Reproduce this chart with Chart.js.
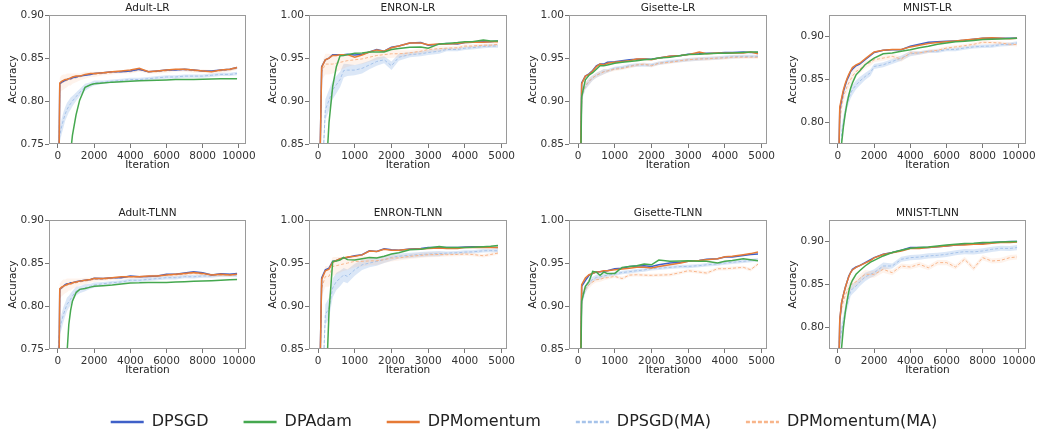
<!DOCTYPE html>
<html>
<head>
<meta charset="utf-8">
<script src="https://cdn.jsdelivr.net/npm/chart.js@4.4.1/dist/chart.umd.min.js"></script>
<style>
html, body { margin: 0; padding: 0; background: #fff; }
#wrap { position: relative; width: 1038px; height: 432px; overflow: hidden; }
#wrap canvas { position: absolute; }
</style>
</head>
<body>
<div id="wrap"></div>
<script>
const FONT = "'DejaVu Sans', sans-serif";
const FS = 10.5;

// iteration grids
const iters10k = [0, 100, 200, 300, 400, 500, 600, 700, 800, 1000,
    1200, 1500, 1800, 2000, 2500, 3000, 3500, 4000, 4500, 5000,
    5500, 6000, 6500, 7000, 7500, 8000, 8500, 9000, 9500, 9900];
const iters5k = [0, 100, 200, 300, 400, 500, 600, 700, 800,
    1000, 1200, 1400, 1600, 1800, 2000, 2200, 2500, 2800,
    3000, 3300, 3500, 3800, 4000, 4200, 4500, 4700, 4900];

const xTicks10k = [0, 2000, 4000, 6000, 8000, 10000];
const xTicks5k = [0, 1000, 2000, 3000, 4000, 5000];
const yTicksAdult = [0.75, 0.80, 0.85, 0.90];
const yTicksHigh = [0.85, 0.90, 0.95, 1.00];
const yTicksMnist = [0.80, 0.85, 0.90];

const seriesNames = ['DPSGD', 'DPAdam', 'DPMomentum', 'DPSGD(MA)', 'DPMomentum(MA)'];
const seriesColors = ['#3f60c8', '#45a84f', '#e67a36', '#a6c3ea', '#f8b58a'];

// ---- Adult-LR ----
const adultLrSgd = [0.600, 0.820, 0.822, 0.823, 0.824, 0.825, 0.826, 0.826, 0.827, 0.828,
    0.829, 0.830, 0.831, 0.832, 0.833, 0.834, 0.834, 0.835, 0.837, 0.834,
    0.835, 0.836, 0.836, 0.837, 0.836, 0.835, 0.835, 0.836, 0.837, 0.839];
const adultLrMom = [0.600, 0.821, 0.823, 0.824, 0.825, 0.825, 0.826, 0.827, 0.828, 0.829,
    0.829, 0.831, 0.832, 0.832, 0.833, 0.834, 0.835, 0.836, 0.838, 0.834,
    0.835, 0.836, 0.837, 0.837, 0.836, 0.835, 0.834, 0.836, 0.837, 0.839];
const adultLrAdam = [0.550, 0.570, 0.600, 0.630, 0.660, 0.690, 0.715, 0.740, 0.760, 0.784,
    0.801, 0.816, 0.819, 0.820, 0.821, 0.822, 0.8225, 0.823, 0.8235, 0.824,
    0.8243, 0.8246, 0.825, 0.825, 0.8252, 0.8254, 0.8256, 0.8258, 0.826, 0.826];
const adultLrSgdMA = [0.745, 0.760, 0.770, 0.778, 0.785, 0.790, 0.794, 0.797, 0.800, 0.805,
    0.810, 0.816, 0.819, 0.821, 0.822, 0.823, 0.824, 0.825, 0.825, 0.826,
    0.827, 0.828, 0.828, 0.829, 0.829, 0.829, 0.830, 0.831, 0.831, 0.832];
const adultLrMomMA = [0.600, 0.819, 0.821, 0.822, 0.823, 0.824, 0.825, 0.825, 0.826, 0.827,
    0.828, 0.830, 0.831, 0.831, 0.832, 0.833, 0.834, 0.834, 0.836, 0.834,
    0.834, 0.835, 0.836, 0.836, 0.835, 0.835, 0.834, 0.835, 0.836, 0.838];
const adultLrBand = [0, 0.008, 0.009, 0.009, 0.008, 0.008, 0.007, 0.007, 0.006, 0.005,
    0.004, 0.004, 0.003, 0.003, 0.002, 0.002, 0.002, 0.002, 0.002, 0.002,
    0.002, 0.002, 0.002, 0.002, 0.002, 0.002, 0.002, 0.002, 0.002, 0.002];

// ---- ENRON-LR ----
const enronLrSgd = [0.700, 0.940, 0.948, 0.950, 0.954, 0.954, 0.954, 0.954, 0.9545,
    0.9535, 0.9545, 0.957, 0.960, 0.958, 0.9625, 0.964, 0.9675, 0.968,
    0.965, 0.966, 0.967, 0.9665, 0.968, 0.9685, 0.969, 0.969, 0.970];
const enronLrMom = [0.700, 0.939, 0.948, 0.950, 0.953, 0.953, 0.954, 0.954, 0.954,
    0.951, 0.9535, 0.957, 0.9595, 0.958, 0.962, 0.964, 0.9675, 0.9675,
    0.9655, 0.9665, 0.9665, 0.967, 0.968, 0.9685, 0.9685, 0.969, 0.969];
const enronLrAdam = [0.700, 0.750, 0.800, 0.875, 0.917, 0.940, 0.9526, 0.953, 0.954,
    0.9555, 0.956, 0.957, 0.957, 0.957, 0.960, 0.961, 0.9627, 0.963,
    0.9615, 0.9665, 0.967, 0.968, 0.969, 0.969, 0.971, 0.970, 0.970];
const enronLrSgdMA = [0.700, 0.800, 0.890, 0.901, 0.913, 0.919, 0.925, 0.9355, 0.936,
    0.936, 0.938, 0.942, 0.946, 0.948, 0.941, 0.951, 0.954, 0.955,
    0.9565, 0.958, 0.960, 0.960, 0.9615, 0.962, 0.9635, 0.964, 0.964];
const enronLrMomMA = [0.700, 0.934, 0.943, 0.943, 0.943, 0.944, 0.945, 0.946, 0.947,
    0.948, 0.949, 0.951, 0.953, 0.954, 0.955, 0.955, 0.956, 0.958,
    0.960, 0.961, 0.9615, 0.962, 0.964, 0.964, 0.965, 0.965, 0.966];
const enronLrBand = [0, 0.010, 0.012, 0.012, 0.011, 0.010, 0.009, 0.008, 0.007,
    0.006, 0.006, 0.005, 0.005, 0.004, 0.005, 0.004, 0.003, 0.003,
    0.003, 0.003, 0.002, 0.002, 0.002, 0.002, 0.002, 0.002, 0.002];

// ---- Gisette-LR ----
const gisetteLrSgd = [0.600, 0.921, 0.929, 0.9316, 0.9355, 0.941, 0.943, 0.943, 0.945,
    0.9456, 0.947, 0.948, 0.9487, 0.949, 0.9487, 0.950, 0.952, 0.953,
    0.9545, 0.955, 0.9557, 0.956, 0.9565, 0.9565, 0.957, 0.9565, 0.9565];
const gisetteLrMom = [0.600, 0.920, 0.929, 0.931, 0.935, 0.940, 0.943, 0.942, 0.944,
    0.945, 0.946, 0.947, 0.949, 0.949, 0.948, 0.950, 0.952, 0.953,
    0.954, 0.957, 0.955, 0.956, 0.9555, 0.956, 0.956, 0.957, 0.955];
const gisetteLrAdam = [0.600, 0.905, 0.9246, 0.930, 0.933, 0.937, 0.941, 0.941, 0.942,
    0.944, 0.945, 0.946, 0.947, 0.948, 0.9487, 0.950, 0.951, 0.953,
    0.9542, 0.9545, 0.955, 0.9555, 0.9557, 0.956, 0.9565, 0.957, 0.957];
const gisetteLrSgdMA = [0.600, 0.905, 0.917, 0.9227, 0.927, 0.930, 0.932, 0.9343, 0.935,
    0.938, 0.939, 0.941, 0.942, 0.942, 0.942, 0.944, 0.946, 0.947,
    0.948, 0.949, 0.9495, 0.950, 0.951, 0.9515, 0.952, 0.952, 0.952];
const gisetteLrMomMA = [0.600, 0.907, 0.918, 0.923, 0.927, 0.930, 0.932, 0.934, 0.935,
    0.937, 0.938, 0.940, 0.942, 0.943, 0.941, 0.944, 0.945, 0.947,
    0.948, 0.949, 0.949, 0.950, 0.950, 0.951, 0.951, 0.951, 0.951];
const gisetteLrBand = [0, 0.005, 0.004, 0.004, 0.003, 0.003, 0.003, 0.003, 0.002,
    0.002, 0.002, 0.002, 0.002, 0.002, 0.002, 0.002, 0.002, 0.002,
    0.002, 0.002, 0.002, 0.002, 0.002, 0.002, 0.002, 0.002, 0.002];

// ---- MNIST-LR ----
const mnistLrSgd = [0.700, 0.8145, 0.826, 0.836, 0.843, 0.8496, 0.854, 0.8594, 0.862, 0.866,
    0.868, 0.873, 0.878, 0.8816, 0.884, 0.8848, 0.8848, 0.8887, 0.891, 0.8934,
    0.894, 0.8945, 0.895, 0.8957, 0.897, 0.898, 0.898, 0.898, 0.898, 0.8984];
const mnistLrMom = [0.700, 0.818, 0.828, 0.838, 0.845, 0.851, 0.856, 0.860, 0.864, 0.867,
    0.869, 0.874, 0.879, 0.882, 0.884, 0.885, 0.885, 0.888, 0.890, 0.892,
    0.893, 0.894, 0.895, 0.896, 0.897, 0.898, 0.8985, 0.898, 0.8975, 0.898];
const mnistLrAdam = [0.650, 0.700, 0.7754, 0.795, 0.810, 0.8223, 0.832, 0.840, 0.846, 0.8555,
    0.860, 0.8672, 0.872, 0.875, 0.880, 0.8809, 0.883, 0.8848, 0.887, 0.8887,
    0.891, 0.8926, 0.894, 0.8945, 0.8955, 0.8965, 0.897, 0.8973, 0.8977, 0.898];
const mnistLrSgdMA = [0.650, 0.720, 0.787, 0.800, 0.812, 0.8223, 0.828, 0.834, 0.838, 0.8438,
    0.848, 0.8535, 0.858, 0.8652, 0.8672, 0.871, 0.875, 0.880, 0.881, 0.8828,
    0.883, 0.8848, 0.885, 0.8867, 0.888, 0.8887, 0.889, 0.8906, 0.891, 0.8926];
const mnistLrMomMA = [0.700, 0.8027, 0.818, 0.830, 0.836, 0.8418, 0.846, 0.850, 0.854, 0.8594,
    0.862, 0.8672, 0.870, 0.873, 0.875, 0.877, 0.8738, 0.8809, 0.881, 0.8828,
    0.884, 0.8867, 0.888, 0.8895, 0.891, 0.8934, 0.893, 0.8926, 0.891, 0.8906];
const mnistLrBand = [0, 0.010, 0.009, 0.008, 0.007, 0.007, 0.006, 0.006, 0.006, 0.005,
    0.005, 0.004, 0.004, 0.003, 0.003, 0.003, 0.003, 0.003, 0.002, 0.002,
    0.002, 0.002, 0.002, 0.002, 0.002, 0.002, 0.002, 0.002, 0.002, 0.002];

// ---- Adult-TLNN ----
const adultTlnnSgd = [0.600, 0.8194, 0.8213, 0.823, 0.825, 0.826, 0.826, 0.827, 0.827, 0.8283,
    0.829, 0.830, 0.831, 0.8322, 0.832, 0.833, 0.833, 0.835, 0.834, 0.8345,
    0.835, 0.8369, 0.837, 0.8384, 0.840, 0.8388, 0.836, 0.8377, 0.837, 0.838];
const adultTlnnMom = [0.600, 0.820, 0.822, 0.823, 0.824, 0.825, 0.826, 0.826, 0.827, 0.828,
    0.829, 0.830, 0.831, 0.832, 0.832, 0.833, 0.834, 0.834, 0.834, 0.835,
    0.835, 0.836, 0.837, 0.838, 0.839, 0.838, 0.836, 0.837, 0.836, 0.837];
const adultTlnnAdam = [0.550, 0.600, 0.650, 0.690, 0.720, 0.745, 0.7785, 0.795, 0.8057, 0.8154,
    0.8194, 0.8205, 0.822, 0.8229, 0.8236, 0.8244, 0.8255, 0.8268, 0.827, 0.8275,
    0.8275, 0.8275, 0.828, 0.8283, 0.8287, 0.8291, 0.8295, 0.830, 0.8305, 0.831];
const adultTlnnSgdMA = [0.745, 0.7746, 0.782, 0.790, 0.796, 0.8018, 0.805, 0.808, 0.8116, 0.8174,
    0.819, 0.8213, 0.823, 0.8244, 0.826, 0.8271, 0.828, 0.830, 0.830, 0.831,
    0.832, 0.833, 0.833, 0.8342, 0.834, 0.835, 0.835, 0.836, 0.836, 0.8357];
const adultTlnnMomMA = [0.600, 0.818, 0.820, 0.822, 0.823, 0.824, 0.825, 0.825, 0.826, 0.827,
    0.828, 0.829, 0.830, 0.831, 0.831, 0.832, 0.833, 0.834, 0.834, 0.834,
    0.835, 0.836, 0.836, 0.837, 0.838, 0.837, 0.836, 0.836, 0.836, 0.837];
const adultTlnnBand = [0, 0.008, 0.009, 0.009, 0.008, 0.008, 0.007, 0.007, 0.006, 0.005,
    0.004, 0.004, 0.003, 0.003, 0.002, 0.002, 0.002, 0.002, 0.002, 0.002,
    0.002, 0.002, 0.002, 0.002, 0.002, 0.002, 0.002, 0.002, 0.002, 0.002];

// ---- ENRON-TLNN ----
const enronTlnnSgd = [0.700, 0.9326, 0.9422, 0.944, 0.952, 0.953, 0.9547, 0.956, 0.9566,
    0.9585, 0.9597, 0.9643, 0.9636, 0.9667, 0.9655, 0.965, 0.9663, 0.967,
    0.9682, 0.968, 0.9682, 0.968, 0.9686, 0.969, 0.969, 0.9685, 0.9682];
const enronTlnnMom = [0.700, 0.931, 0.941, 0.943, 0.951, 0.953, 0.955, 0.956, 0.957,
    0.958, 0.9595, 0.964, 0.9635, 0.966, 0.965, 0.965, 0.966, 0.9665,
    0.967, 0.9675, 0.967, 0.967, 0.968, 0.968, 0.9685, 0.968, 0.968];
const enronTlnnAdam = [0.600, 0.700, 0.780, 0.894, 0.952, 0.9525, 0.9535, 0.9566, 0.954,
    0.9535, 0.955, 0.9566, 0.956, 0.958, 0.9605, 0.962, 0.9655, 0.966,
    0.9674, 0.9694, 0.9682, 0.968, 0.9682, 0.9685, 0.969, 0.9695, 0.9705];
const enronTlnnSgdMA = [0.700, 0.780, 0.890, 0.8977, 0.921, 0.9287, 0.932, 0.9364, 0.9345,
    0.9422, 0.948, 0.950, 0.952, 0.954, 0.9566, 0.958, 0.959, 0.960,
    0.9605, 0.961, 0.9616, 0.962, 0.9628, 0.963, 0.9643, 0.9645, 0.9643];
const enronTlnnMomMA = [0.700, 0.921, 0.9345, 0.9345, 0.946, 0.947, 0.948, 0.949, 0.950,
    0.952, 0.952, 0.9525, 0.9527, 0.954, 0.9558, 0.956, 0.9578, 0.959,
    0.9597, 0.960, 0.9597, 0.960, 0.9605, 0.960, 0.9585, 0.960, 0.9616];
const enronTlnnBand = [0, 0.010, 0.012, 0.012, 0.011, 0.010, 0.009, 0.008, 0.008,
    0.007, 0.006, 0.005, 0.005, 0.004, 0.004, 0.003, 0.003, 0.003,
    0.003, 0.003, 0.002, 0.002, 0.002, 0.002, 0.002, 0.002, 0.002];

// ---- Gisette-TLNN ----
const gisetteTlnnSgd = [0.600, 0.9229, 0.9295, 0.9357, 0.938, 0.9395, 0.940, 0.9405, 0.9411,
    0.9434, 0.944, 0.946, 0.9465, 0.947, 0.9461, 0.948, 0.950, 0.951,
    0.952, 0.953, 0.9543, 0.955, 0.957, 0.957, 0.9589, 0.960, 0.9605];
const gisetteTlnnMom = [0.600, 0.9248, 0.9326, 0.9364, 0.938, 0.9395, 0.940, 0.941, 0.941,
    0.9423, 0.943, 0.944, 0.945, 0.945, 0.9442, 0.946, 0.948, 0.950,
    0.952, 0.953, 0.9539, 0.955, 0.9574, 0.958, 0.9597, 0.961, 0.9628];
const gisetteTlnnAdam = [0.600, 0.9054, 0.9229, 0.9287, 0.9403, 0.9395, 0.9357, 0.9395, 0.938,
    0.938, 0.945, 0.946, 0.947, 0.9488, 0.948, 0.9535, 0.952, 0.9525,
    0.9527, 0.952, 0.952, 0.950, 0.952, 0.953, 0.955, 0.9539, 0.9527];
const gisetteTlnnSgdMA = [0.600, 0.9054, 0.919, 0.9279, 0.931, 0.9333, 0.934, 0.935, 0.936,
    0.9372, 0.939, 0.940, 0.9411, 0.942, 0.9434, 0.944, 0.945, 0.946,
    0.9461, 0.947, 0.948, 0.949, 0.950, 0.951, 0.952, 0.953, 0.9539];
const gisetteTlnnMomMA = [0.600, 0.9132, 0.920, 0.9248, 0.928, 0.9306, 0.931, 0.9326, 0.933,
    0.9345, 0.932, 0.936, 0.9364, 0.936, 0.9357, 0.936, 0.9364, 0.939,
    0.9411, 0.9395, 0.9384, 0.9434, 0.9434, 0.944, 0.945, 0.9423, 0.9488];
const gisetteTlnnBand = [0, 0.005, 0.004, 0.004, 0.003, 0.003, 0.003, 0.003, 0.002,
    0.002, 0.002, 0.002, 0.002, 0.002, 0.002, 0.002, 0.002, 0.002,
    0.002, 0.002, 0.002, 0.002, 0.002, 0.002, 0.002, 0.002, 0.002];

// ---- MNIST-TLNN ----
const mnistTlnnSgd = [0.700, 0.8074, 0.8288, 0.838, 0.8463, 0.853, 0.860, 0.864, 0.8677, 0.8704,
    0.872, 0.8755, 0.879, 0.8813, 0.8852, 0.8872, 0.8899, 0.893, 0.893, 0.893,
    0.894, 0.895, 0.896, 0.8969, 0.897, 0.8977, 0.899, 0.8996, 0.900, 0.900];
const mnistTlnnMom = [0.700, 0.809, 0.829, 0.838, 0.846, 0.853, 0.859, 0.864, 0.867, 0.870,
    0.872, 0.875, 0.878, 0.881, 0.885, 0.887, 0.889, 0.892, 0.892, 0.893,
    0.894, 0.895, 0.896, 0.896, 0.897, 0.897, 0.898, 0.899, 0.899, 0.8995];
const mnistTlnnAdam = [0.650, 0.700, 0.7763, 0.7996, 0.817, 0.8307, 0.842, 0.8502, 0.855, 0.8619,
    0.866, 0.8716, 0.876, 0.8782, 0.8833, 0.8872, 0.890, 0.8922, 0.893, 0.8938,
    0.895, 0.8961, 0.897, 0.8977, 0.898, 0.8988, 0.899, 0.8996, 0.8998, 0.900];
const mnistTlnnSgdMA = [0.700, 0.784, 0.796, 0.8074, 0.818, 0.8268, 0.835, 0.8424, 0.845, 0.8482,
    0.853, 0.8588, 0.862, 0.8638, 0.8716, 0.8716, 0.8794, 0.8813, 0.882, 0.8833,
    0.884, 0.8852, 0.887, 0.8883, 0.888, 0.8891, 0.891, 0.8922, 0.892, 0.893];
const mnistTlnnMomMA = [0.700, 0.8113, 0.822, 0.8307, 0.837, 0.8424, 0.846, 0.849, 0.851, 0.8533,
    0.857, 0.8619, 0.862, 0.8619, 0.8677, 0.8638, 0.8716, 0.8704, 0.8735, 0.8696,
    0.8755, 0.8755, 0.8704, 0.8794, 0.8689, 0.8813, 0.8774, 0.8782, 0.8813, 0.8821];
const mnistTlnnBand = [0, 0.010, 0.009, 0.008, 0.008, 0.007, 0.007, 0.006, 0.006, 0.005,
    0.005, 0.005, 0.004, 0.004, 0.004, 0.003, 0.003, 0.003, 0.003, 0.003,
    0.003, 0.003, 0.003, 0.003, 0.003, 0.003, 0.003, 0.003, 0.003, 0.003];

const panels = [
    {title: 'Adult-LR', x: iters10k, s: [adultLrSgd, adultLrAdam, adultLrMom, adultLrSgdMA, adultLrMomMA], band: adultLrBand,
     xr: [-495, 10395], xt: xTicks10k, yr: [0.75, 0.90], yt: yTicksAdult, col: 0, row: 0},
    {title: 'ENRON-LR', x: iters5k, s: [enronLrSgd, enronLrAdam, enronLrMom, enronLrSgdMA, enronLrMomMA], band: enronLrBand,
     xr: [-245, 5145], xt: xTicks5k, yr: [0.85, 1.00], yt: yTicksHigh, col: 1, row: 0},
    {title: 'Gisette-LR', x: iters5k, s: [gisetteLrSgd, gisetteLrAdam, gisetteLrMom, gisetteLrSgdMA, gisetteLrMomMA], band: gisetteLrBand,
     xr: [-245, 5145], xt: xTicks5k, yr: [0.85, 1.00], yt: yTicksHigh, col: 2, row: 0},
    {title: 'MNIST-LR', x: iters10k, s: [mnistLrSgd, mnistLrAdam, mnistLrMom, mnistLrSgdMA, mnistLrMomMA], band: mnistLrBand,
     xr: [-495, 10395], xt: xTicks10k, yr: [0.775, 0.925], yt: yTicksMnist, col: 3, row: 0},
    {title: 'Adult-TLNN', x: iters10k, s: [adultTlnnSgd, adultTlnnAdam, adultTlnnMom, adultTlnnSgdMA, adultTlnnMomMA], band: adultTlnnBand,
     xr: [-495, 10395], xt: xTicks10k, yr: [0.75, 0.90], yt: yTicksAdult, col: 0, row: 1},
    {title: 'ENRON-TLNN', x: iters5k, s: [enronTlnnSgd, enronTlnnAdam, enronTlnnMom, enronTlnnSgdMA, enronTlnnMomMA], band: enronTlnnBand,
     xr: [-245, 5145], xt: xTicks5k, yr: [0.85, 1.00], yt: yTicksHigh, col: 1, row: 1},
    {title: 'Gisette-TLNN', x: iters5k, s: [gisetteTlnnSgd, gisetteTlnnAdam, gisetteTlnnMom, gisetteTlnnSgdMA, gisetteTlnnMomMA], band: gisetteTlnnBand,
     xr: [-245, 5145], xt: xTicks5k, yr: [0.85, 1.00], yt: yTicksHigh, col: 2, row: 1},
    {title: 'MNIST-TLNN', x: iters10k, s: [mnistTlnnSgd, mnistTlnnAdam, mnistTlnnMom, mnistTlnnSgdMA, mnistTlnnMomMA], band: mnistTlnnBand,
     xr: [-495, 10395], xt: xTicks10k, yr: [0.775, 0.925], yt: yTicksMnist, col: 3, row: 1}
];

const wrap = document.getElementById('wrap');

// top and right spines (matplotlib-style box)
const framePlugin = {
    id: 'frame',
    afterDatasetsDraw(chart) {
        const a = chart.chartArea;
        const ctx = chart.ctx;
        ctx.save();
        ctx.strokeStyle = '#9a9a9a';
        ctx.lineWidth = 1;
        ctx.strokeRect(Math.round(a.left) + 0.5, Math.round(a.top) + 0.5,
            Math.round(a.right - a.left) - 1, Math.round(a.bottom - a.top) - 1);
        ctx.restore();
    }
};

function addCanvas(left, top, w, h) {
    let cv = document.createElement('canvas');
    cv.width = w;
    cv.height = h;
    cv.style.left = left + 'px';
    cv.style.top = top + 'px';
    cv.style.width = w + 'px';
    cv.style.height = h + 'px';
    wrap.appendChild(cv);
    return cv;
}

function makePanel(p) {
    let cv = addCanvas(p.col * 260, p.row * 205, 258, 180);
    let pts = arr => p.x.map((v, i) => ({x: v, y: arr[i]}));
    let shifted = (arr, sign) => p.x.map((v, i) => ({x: v, y: arr[i] + sign * p.band[i]}));
    let line = (idx, width, dash) => ({
        label: seriesNames[idx],
        data: pts(p.s[idx]),
        borderColor: seriesColors[idx],
        borderWidth: width,
        borderDash: dash,
        fill: false
    });
    let bandSet = (idx, sign, fillTo, alpha) => ({
        label: seriesNames[idx] + (sign > 0 ? ' upper' : ' lower'),
        data: shifted(p.s[idx], sign),
        borderWidth: 0,
        borderColor: 'rgba(0,0,0,0)',
        backgroundColor: alpha,
        fill: fillTo
    });

    // index 0 is drawn on top
    let datasets = [
        line(1, 1.5, []),
        line(2, 1.5, []),
        line(0, 1.5, []),
        line(4, 1, [3, 2]),
        line(3, 1, [3, 2]),
        bandSet(4, 1, '+1', 'rgba(248,181,138,0.16)'),
        bandSet(4, -1, false, 'rgba(0,0,0,0)'),
        bandSet(3, 1, '+1', 'rgba(166,195,234,0.40)'),
        bandSet(3, -1, false, 'rgba(0,0,0,0)')
    ];

    new Chart(cv, {
        type: 'line',
        data: {datasets: datasets},
        plugins: [framePlugin],
        options: {
            responsive: false,
            animation: false,
            devicePixelRatio: 1,
            layout: {padding: {left: 0, right: 11, top: 0, bottom: 0}},
            elements: {point: {radius: 0}, line: {tension: 0}},
            plugins: {
                legend: {display: false},
                tooltip: {enabled: false},
                filler: {drawTime: 'beforeDatasetsDraw'},
                title: {
                    display: true, text: p.title, fullSize: false,
                    font: {family: FONT, size: FS, weight: 'normal'},
                    color: '#222', padding: {top: 1.5, bottom: 1}
                }
            },
            scales: {
                x: {
                    type: 'linear', min: p.xr[0], max: p.xr[1],
                    afterBuildTicks: s => { s.ticks = p.xt.map(v => ({value: v})); },
                    afterFit: s => { s.height = 36; },
                    ticks: {font: {family: FONT, size: FS}, color: '#333', padding: 2,
                        maxRotation: 0, autoSkip: false, callback: v => String(v)},
                    grid: {drawOnChartArea: false, tickLength: 4, color: '#777'},
                    border: {display: false},
                    title: {display: true, text: 'Iteration', font: {family: FONT, size: FS},
                        color: '#222', padding: {top: 0, bottom: 8}}
                },
                y: {
                    type: 'linear', min: p.yr[0], max: p.yr[1],
                    afterBuildTicks: s => { s.ticks = p.yt.map(v => ({value: v})); },
                    afterFit: s => { s.width = 49; },
                    ticks: {font: {family: FONT, size: FS}, color: '#333', padding: 1,
                        autoSkip: false, callback: v => v.toFixed(2)},
                    grid: {drawOnChartArea: false, tickLength: 4, color: '#777'},
                    border: {display: false},
                    title: {display: true, text: 'Accuracy', font: {family: FONT, size: FS},
                        color: '#222', padding: {top: 6.5, bottom: 0}}
                }
            }
        }
    });
}

panels.forEach(makePanel);

// shared legend under the grid
let legendCanvas = addCanvas(0, 379, 1038, 53);
new Chart(legendCanvas, {
    type: 'line',
    data: {
        labels: [],
        datasets: seriesNames.map((n, i) => ({
            label: n,
            data: [],
            borderColor: seriesColors[i],
            backgroundColor: seriesColors[i],
            borderWidth: 2.5,
            borderDash: i >= 3 ? [4, 2] : []
        }))
    },
    options: {
        responsive: false,
        animation: false,
        devicePixelRatio: 1,
        layout: {padding: {left: 10}},
        scales: {x: {display: false}, y: {display: false}},
        plugins: {
            tooltip: {enabled: false},
            legend: {
                display: true, position: 'top', maxHeight: 60,
                labels: {
                    usePointStyle: true, pointStyle: 'line', pointStyleWidth: 33,
                    padding: 35, color: '#222', font: {family: FONT, size: 16},
                    generateLabels: chart => {
                        let items = Chart.defaults.plugins.legend.labels.generateLabels(chart);
                        items.forEach(it => {
                            let ds = chart.data.datasets[it.datasetIndex];
                            it.lineDash = ds.borderDash;
                            it.lineWidth = ds.borderWidth;
                            it.strokeStyle = ds.borderColor;
                        });
                        return items;
                    }
                }
            }
        }
    }
});
</script>
</body>
</html>
